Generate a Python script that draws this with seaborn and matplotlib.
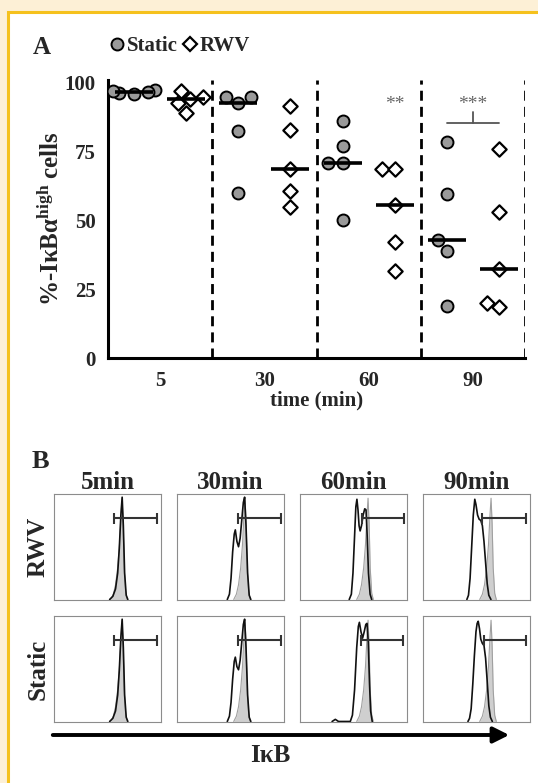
import numpy as np
import pandas as pd
import matplotlib
matplotlib.use("Agg")
import matplotlib.pyplot as plt
import seaborn as sns
from matplotlib.lines import Line2D
from matplotlib.patches import Rectangle, FancyArrowPatch

# ------------------------- Panel A data -------------------------
times = ["5", "30", "60", "90"]
conditions = ["Static", "RWV"]
static_5 = [97.5, 96.8, 96.2, 97.0, 96.0]
rwv_5 = [97.0, 95.0, 94.0, 92.5, 89.0]
static_30 = [95.0, 95.0, 92.5, 82.5, 60.0]
rwv_30 = [91.5, 83.0, 68.5, 60.5, 55.0]
static_60 = [86.0, 77.0, 71.0, 71.0, 50.0]
rwv_60 = [68.5, 68.5, 55.5, 42.0, 31.5]
static_90 = [78.5, 59.5, 43.0, 39.0, 19.0]
rwv_90 = [76.0, 53.0, 32.5, 20.0, 18.5]
y_ticks = [0, 25, 50, 75, 100]

series = {
    ("5", "Static"): static_5, ("5", "RWV"): rwv_5,
    ("30", "Static"): static_30, ("30", "RWV"): rwv_30,
    ("60", "Static"): static_60, ("60", "RWV"): rwv_60,
    ("90", "Static"): static_90, ("90", "RWV"): rwv_90,
}

# ------------------------- Panel B data -------------------------
col_titles = ["5min", "30min", "60min", "90min"]
row_labels = ["RWV", "Static"]

# control (shaded) histogram, fraction of box width / height
ctrl_x = [0.53, 0.555, 0.575, 0.595, 0.612, 0.626, 0.636, 0.646, 0.656, 0.67, 0.685]
ctrl_y = [0.0, 0.05, 0.14, 0.30, 0.52, 0.80, 0.96, 0.72, 0.30, 0.06, 0.0]

rwv5_x = [0.52, 0.55, 0.575, 0.595, 0.61, 0.625, 0.637, 0.648, 0.66, 0.675, 0.69]
rwv5_y = [0.0, 0.03, 0.10, 0.25, 0.48, 0.80, 0.97, 0.70, 0.25, 0.04, 0.0]
static5_x = [0.52, 0.55, 0.575, 0.595, 0.61, 0.625, 0.637, 0.648, 0.66, 0.675, 0.69]
static5_y = [0.0, 0.03, 0.10, 0.25, 0.48, 0.80, 0.97, 0.70, 0.25, 0.04, 0.0]

rwv30_x = [0.47, 0.49, 0.505, 0.52, 0.535, 0.545, 0.56, 0.575, 0.59, 0.605, 0.62, 0.632, 0.645, 0.66, 0.675, 0.69]
rwv30_y = [0.0, 0.05, 0.20, 0.45, 0.62, 0.66, 0.55, 0.50, 0.58, 0.75, 0.92, 0.97, 0.70, 0.25, 0.04, 0.0]
static30_x = [0.47, 0.49, 0.505, 0.52, 0.535, 0.545, 0.56, 0.575, 0.59, 0.605, 0.62, 0.632, 0.645, 0.66, 0.675, 0.69]
static30_y = [0.0, 0.05, 0.18, 0.40, 0.57, 0.61, 0.52, 0.49, 0.58, 0.75, 0.92, 0.97, 0.70, 0.25, 0.04, 0.0]

rwv60_x = [0.46, 0.48, 0.495, 0.51, 0.522, 0.532, 0.542, 0.552, 0.562, 0.575, 0.59, 0.605, 0.617, 0.628, 0.64, 0.655, 0.67]
rwv60_y = [0.0, 0.05, 0.25, 0.60, 0.88, 0.95, 0.85, 0.70, 0.65, 0.70, 0.80, 0.86, 0.85, 0.60, 0.25, 0.05, 0.0]
static60_x = [0.30, 0.33, 0.36, 0.47, 0.49, 0.51, 0.53, 0.545, 0.555, 0.57, 0.585, 0.60, 0.615, 0.626, 0.638, 0.65, 0.66, 0.675]
static60_y = [0.0, 0.02, 0.0, 0.0, 0.06, 0.30, 0.70, 0.90, 0.94, 0.85, 0.79, 0.85, 0.92, 0.93, 0.75, 0.35, 0.10, 0.0]

rwv90_x = [0.41, 0.425, 0.44, 0.455, 0.47, 0.484, 0.495, 0.51, 0.525, 0.54, 0.555, 0.57, 0.585, 0.60, 0.615, 0.635]
rwv90_y = [0.0, 0.04, 0.20, 0.50, 0.80, 0.95, 0.90, 0.80, 0.76, 0.75, 0.70, 0.55, 0.35, 0.15, 0.04, 0.0]
static90_x = [0.42, 0.435, 0.45, 0.465, 0.48, 0.495, 0.506, 0.516, 0.528, 0.54, 0.555, 0.57, 0.585, 0.60, 0.615, 0.63, 0.648]
static90_y = [0.0, 0.03, 0.12, 0.35, 0.62, 0.85, 0.93, 0.95, 0.88, 0.78, 0.74, 0.72, 0.60, 0.38, 0.15, 0.04, 0.0]

curves = {
    ("RWV", 0): (rwv5_x, rwv5_y), ("RWV", 1): (rwv30_x, rwv30_y),
    ("RWV", 2): (rwv60_x, rwv60_y), ("RWV", 3): (rwv90_x, rwv90_y),
    ("Static", 0): (static5_x, static5_y), ("Static", 1): (static30_x, static30_y),
    ("Static", 2): (static60_x, static60_y), ("Static", 3): (static90_x, static90_y),
}
gate_lo = {"RWV": [0.565, 0.574, 0.58, 0.55], "Static": [0.565, 0.574, 0.57, 0.57]}
gate_hi = {"RWV": [0.96, 0.968, 0.97, 0.96], "Static": [0.96, 0.968, 0.96, 0.96]}
gate_y = 0.77

# ------------------------- style -------------------------
sns.set_style("white")
plt.rcParams["font.family"] = ["Liberation Serif", "DejaVu Serif"]
plt.rcParams["font.weight"] = "bold"
plt.rcParams["mathtext.fontset"] = "custom"
plt.rcParams["mathtext.rm"] = "Liberation Serif:bold"
plt.rcParams["mathtext.it"] = "Liberation Serif:italic:bold"
plt.rcParams["mathtext.bf"] = "Liberation Serif:bold"

W, H = 538, 783
fig = plt.figure(figsize=(W / 100, H / 100), dpi=100)
fig.patch.set_facecolor("white")

def fx(px):
    return px / W

def fy(py):
    return 1 - py / H

# background frame
fig.add_artist(Rectangle((0, 0), 1, 1, transform=fig.transFigure,
                         facecolor="#fdf0d6", edgecolor="none", zorder=-20))
fig.add_artist(Rectangle((fx(7.5), -0.1), 1.2, fy(12) + 0.1, transform=fig.transFigure,
                         facecolor="white", edgecolor="#f5c11d", linewidth=2.2, zorder=-19))

# ------------------------- Panel A -------------------------
rows = []
for t in times:
    for c in conditions:
        for v in series[(t, c)]:
            rows.append({"slot": f"{t}|{c}", "cond": c, "value": v})
df = pd.DataFrame(rows)
order = [f"{t}|{c}" for t in times for c in conditions]

axA = fig.add_axes([fx(108), fy(358), fx(525) - fx(108), (358 - 80) / H])
axA.set_facecolor("none")

sns.swarmplot(data=df[df.cond == "Static"], x="slot", y="value", order=order,
              color="#9a9a9a", marker="o", size=8.6, edgecolor="black",
              linewidth=1.4, ax=axA, zorder=3, warn_thresh=1)
sns.swarmplot(data=df[df.cond == "RWV"], x="slot", y="value", order=order,
              color="white", marker="D", size=7.3, edgecolor="black",
              linewidth=1.6, ax=axA, zorder=4, warn_thresh=1)
sns.pointplot(data=df, x="slot", y="value", order=order, estimator="median",
              errorbar=None, color="black", markers="_", linestyles="none",
              markersize=27, markeredgewidth=2.6, ax=axA, zorder=6)

n_per = len(conditions)
centers = [i * n_per + (n_per - 1) / 2 for i in range(len(times))]
bounds = [i * n_per + n_per - 0.5 for i in range(len(times))]
for b in bounds:
    axA.axvline(b, color="black", lw=2, dashes=(3.6, 2.2), zorder=1)

axA.set_xlim(-0.5, len(order) - 0.5)
axA.set_ylim(0, 101)
axA.set_xticks(centers)
axA.set_xticklabels(times)
axA.set_xticks(bounds, minor=True)
axA.set_yticks(y_ticks)
axA.set_yticklabels([str(v) for v in y_ticks])
for side in ["top", "right"]:
    axA.spines[side].set_visible(False)
for side in ["left", "bottom"]:
    axA.spines[side].set_linewidth(2.2)
    axA.spines[side].set_color("black")
axA.tick_params(axis="both", which="both", direction="out", length=6, width=2,
                color="black", labelsize=15, pad=3)
axA.tick_params(axis="y", which="minor", length=0)
axA.set_xlabel("time (min)", fontsize=15, fontweight="bold", labelpad=0)
axA.set_ylabel("%-IκBα$^{\\mathrm{high}}$ cells", fontsize=18, fontweight="bold", labelpad=1)

# significance
i60 = order.index("60|RWV")
axA.text(i60, 92, "**", ha="center", va="center", color="#666666",
         fontsize=14, fontweight="normal")
s90, r90 = order.index("90|Static"), order.index("90|RWV")
mid90 = (s90 + r90) / 2
axA.plot([s90, r90], [85.5, 85.5], color="#555555", lw=1.3, zorder=2)
axA.plot([mid90, mid90], [85.5, 89.5], color="#555555", lw=1.3, zorder=2)
axA.text(mid90, 92, "***", ha="center", va="center", color="#666666",
         fontsize=14, fontweight="normal")

# legend + panel letter
handles = [
    Line2D([], [], marker="o", linestyle="none", markerfacecolor="#9a9a9a",
           markeredgecolor="black", markersize=8.6, markeredgewidth=1.4),
    Line2D([], [], marker="D", linestyle="none", markerfacecolor="white",
           markeredgecolor="black", markersize=7.3, markeredgewidth=1.6),
]
fig.legend(handles, conditions, loc="center left", bbox_to_anchor=(fx(108), fy(46)),
           ncol=2, frameon=False, fontsize=15, handletextpad=0.0,
           columnspacing=0.15, handlelength=0.9, borderaxespad=0, borderpad=0)
fig.text(fx(33), fy(47), "A", fontsize=18, fontweight="bold", va="center", ha="left")

# ------------------------- Panel B -------------------------
fig.text(fx(32), fy(462), "B", fontsize=19, fontweight="bold", va="center", ha="left")
box_left = [54, 177, 300, 423]
box_w = 107
row_top = [494, 616]
box_h = 106
bottom_ticks = [0.04, 0.08, 0.15, 0.3, 0.38, 0.45, 0.55, 0.62, 0.7, 0.8, 0.88, 0.95]
left_ticks = [0.18, 0.39, 0.58, 0.77, 0.96]

for ci, title in enumerate(col_titles):
    fig.text(fx(box_left[ci] + box_w / 2), fy(482), title, fontsize=18,
             fontweight="bold", ha="center", va="center")
for ri, rl in enumerate(row_labels):
    fig.text(fx(38), fy(row_top[ri] + box_h / 2), rl, fontsize=18, fontweight="bold",
             rotation=90, ha="center", va="center")
    for ci in range(len(col_titles)):
        ax = fig.add_axes([fx(box_left[ci]), fy(row_top[ri] + box_h), box_w / W, box_h / H])
        ax.fill_between(ctrl_x, ctrl_y, 0, color="#cfcfcf", lw=0, zorder=1)
        ax.plot(ctrl_x, ctrl_y, color="#a0a0a0", lw=0.8, zorder=2)
        cx, cy = curves[(rl, ci)]
        sns.lineplot(x=cx, y=cy, color="#111111", lw=1.2, ax=ax, zorder=3)
        lo, hi = gate_lo[rl][ci], gate_hi[rl][ci]
        ax.plot([lo, hi], [gate_y, gate_y], color="#333333", lw=1.5, zorder=4)
        ax.vlines([lo, hi], gate_y - 0.05, gate_y + 0.05, color="#333333", lw=1.5, zorder=4)
        ax.set_xlim(0, 1)
        ax.set_ylim(-0.005, 1.0)
        ax.set_xticks(bottom_ticks)
        ax.set_yticks(left_ticks)
        ax.set_xticklabels([])
        ax.set_yticklabels([])
        ax.set_xlabel("")
        ax.set_ylabel("")
        ax.tick_params(direction="in", length=2, width=0.6, color="#999999")
        for s in ax.spines.values():
            s.set_color("#8c8c8c")
            s.set_linewidth(0.8)

fig.add_artist(FancyArrowPatch((fx(50), fy(735)), (fx(512), fy(735)),
                               transform=fig.transFigure, arrowstyle="-|>",
                               mutation_scale=24, lw=2.8, color="black"))
fig.text(fx(270), fy(756), "IκB", fontsize=18, fontweight="bold", ha="center", va="center")

fig.savefig("out.png", dpi=100)
